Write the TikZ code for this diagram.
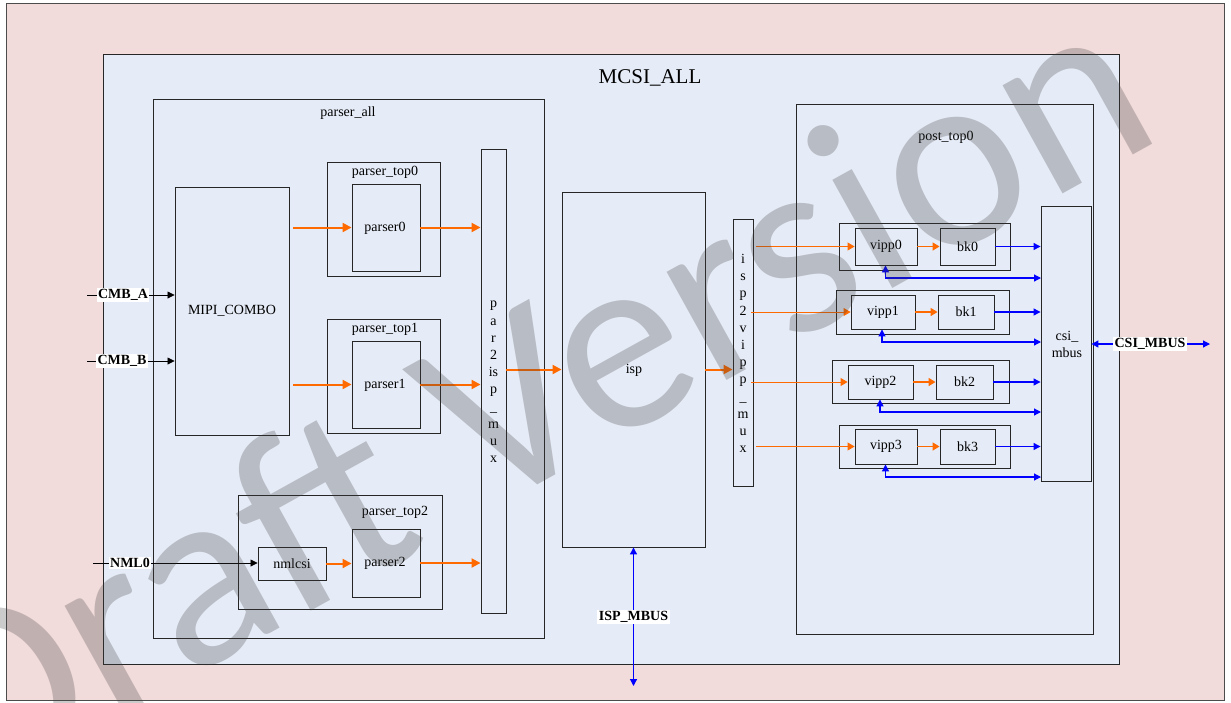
\documentclass[tikz,border=0pt]{standalone}
\usepackage{fontspec}
\setmainfont{Liberation Serif}
\newfontfamily\wmfont{Carlito}
\usetikzlibrary{arrows.meta,fit}
\definecolor{pinkbg}{HTML}{F2DCDB}
\definecolor{bluebg}{HTML}{E6ECF7}
\definecolor{org}{HTML}{FF6A00}
\definecolor{bl}{HTML}{0000FF}
\begin{document}
\begin{tikzpicture}[x=1pt,y=-1pt,
  blk/.style={draw=black!85, line width=0.9pt, inner sep=0pt},
  lbl/.style={font=\fontsize{14}{17}\selectfont, inner sep=0pt},
  vlbl/.style={font=\fontsize{14}{17.2}\selectfont, inner sep=0pt, align=center},
  boldlbl/.style={font=\fontsize{14}{17}\selectfont\bfseries, fill=white, inner sep=1.5pt},
  oarr/.style={draw=org, line width=2pt, -{Triangle[length=9pt,width=9pt]}},
  oarrt/.style={draw=org, line width=1pt, -{Triangle[length=7pt,width=8pt]}},
  barr/.style={draw=bl, line width=1.2pt, -{Triangle[length=7pt,width=7pt]}},
  bbarr/.style={draw=bl, line width=1.2pt, {Triangle[length=7pt,width=7pt]}-{Triangle[length=7pt,width=7pt]}},
  karr/.style={draw=black, line width=0.8pt, -{Triangle[length=7pt,width=7pt]}},
]
\useasboundingbox (0,0) rectangle (1231,702);
\begin{scope}
\clip (0,0) rectangle (1231,702);
% frames
\node[blk, fill=pinkbg, draw=black!70, fit={(6,3) (1224,700)}] (frame) {};
\node[blk, fill=bluebg, fit={(103,54) (1119,664)}] (mcsi) {};
\node[font=\fontsize{21}{25}\selectfont, inner sep=0pt] (mcsiT) at (650,78) {MCSI\_ALL};
% parser_all
\node[blk, fit={(153,99) (544,638)}] (pall) {};
\node[lbl] (pallT) at (348,113) {parser\_all};
\node[blk, fit={(175,187) (289,435)}] (mipi) {};
\node[lbl] (mipiT) at (232,311) {MIPI\_COMBO};
\node[blk, fit={(327,162) (440,276)}] (pt0) {};
\node[lbl] (pt0T) at (385,172) {parser\_top0};
\node[blk, fit={(352,184) (420,271)}] (p0) {};
\node[lbl] (p0T) at (385,228) {parser0};
\node[blk, fit={(327,319) (440,433)}] (pt1) {};
\node[lbl] (pt1T) at (385,329) {parser\_top1};
\node[blk, fit={(352,341) (420,428)}] (p1) {};
\node[lbl] (p1T) at (385,385) {parser1};
\node[blk, fit={(238,495) (442,609)}] (pt2) {};
\node[lbl] (pt2T) at (395,512) {parser\_top2};
\node[blk, fit={(258,547) (326,580)}] (nml) {};
\node[lbl] (nmlT) at (292,564) {nmlcsi};
\node[blk, fit={(352,529) (420,597)}] (p2) {};
\node[lbl] (p2T) at (385,563) {parser2};
\node[blk, fit={(481,149) (506,613)}] (pmux) {};
\node[vlbl] (pmuxT) at (493.5,382) {p\\a\\r\\2\\is\\p\\\_\\m\\u\\x};
% isp
\node[blk, fit={(562,192) (705,547)}] (isp) {};
\node[lbl] (ispT) at (634,370) {isp};
\node[blk, fit={(733,219) (753,486)}] (vmux) {};
\node[vlbl] (vmuxT) at (743,353.5) {i\\s\\p\\2\\v\\i\\p\\p\\\_\\m\\u\\x};
% post_top0
\node[blk, fit={(796,104) (1093,634)}] (post) {};
\node[lbl] (postT) at (946,137) {post\_top0};
\node[blk, fit={(839,223) (1010,270)}] (g0) {};
\node[blk, fit={(855,228) (917,265)}] (v0) {};
\node[lbl] at (v0) {vipp0};
\node[blk, fit={(940,228) (995,265)}] (b0) {};
\node[lbl] at (b0) {bk0};
\node[blk, fit={(836,290) (1009,334)}] (g1) {};
\node[blk, fit={(851,295) (915,329)}] (v1) {};
\node[lbl] at (v1) {vipp1};
\node[blk, fit={(938,295) (994,329)}] (b1) {};
\node[lbl] at (b1) {bk1};
\node[blk, fit={(832,360) (1009,403)}] (g2) {};
\node[blk, fit={(848,365) (913,399)}] (v2) {};
\node[lbl] at (v2) {vipp2};
\node[blk, fit={(936,365) (993,399)}] (b2) {};
\node[lbl] at (b2) {bk2};
\node[blk, fit={(839,425) (1010,468)}] (g3) {};
\node[blk, fit={(855,429) (917,464)}] (v3) {};
\node[lbl] at (v3) {vipp3};
\node[blk, fit={(940,429) (995,464)}] (b3) {};
\node[lbl] at (b3) {bk3};
\node[blk, fit={(1041,206) (1091,481)}] (csi) {};
\node[vlbl, font=\fontsize{14}{17}\selectfont] (csiT) at (1067,344) {csi\_\\mbus};
% free ends
\coordinate (cmbA) at (87,295);
\coordinate (cmbB) at (87,361);
\coordinate (nmlIn) at (93,563);
\coordinate (csiR) at (1210,344);
\coordinate (ispB) at (633.5,686);
\coordinate (fb0) at (1041,278);
\coordinate (fb1) at (1041,342);
\coordinate (fb2) at (1041,412);
\coordinate (fb3) at (1041,477);
\coordinate (mipiR) at (293,0);
\coordinate (vmuxR) at (756,0);
% black inputs
\draw[karr] (cmbA) -- (cmbA -| mipi.west);
\draw[karr] (cmbB) -- (cmbB -| mipi.west);
\draw[karr] (nmlIn) -- (nmlIn -| nml.west);
\node[boldlbl] at (123,295) {CMB\_A};
\node[boldlbl] at (122,361) {CMB\_B};
\node[boldlbl] at (130,563) {NML0};
% orange flows
\draw[oarr] (mipiR |- p0) -- (p0.west);
\draw[oarr] (mipiR |- p1) -- (p1.west);
\draw[oarr] (p0.east) -- (p0.east -| pmux.west);
\draw[oarr] (p1.east) -- (p1.east -| pmux.west);
\draw[oarr] (nml.east) -- (nml.east -| p2.west);
\draw[oarr] (p2.east) -- (p2.east -| pmux.west);
\draw[oarr] (pmux.east |- isp) -- (isp.west);
\draw[oarr] (isp.east) -- (isp.east -| vmux.west);
\draw[oarrt] (vmuxR |- v0) -- (v0.west);
\draw[oarrt] ([xshift=-5pt]vmuxR |- v1) -- (v1.west);
\draw[oarrt] ([xshift=-5pt]vmuxR |- v2) -- (v2.west);
\draw[oarrt] (vmuxR |- v3) -- (v3.west);
\draw[oarrt, line width=1.5pt] (v0.east) -- (b0.west);
\draw[oarrt, line width=1.5pt] (v1.east) -- (b1.west);
\draw[oarrt, line width=1.5pt] (v2.east) -- (b2.west);
\draw[oarrt, line width=1.5pt] (v3.east) -- (b3.west);
% blue
\draw[barr] (b0.east) -- (b0.east -| csi.west);
\draw[barr] (b1.east) -- (b1.east -| csi.west);
\draw[barr] (b2.east) -- (b2.east -| csi.west);
\draw[barr] (b3.east) -- (b3.east -| csi.west);
\draw[bbarr] ([xshift=-0.5pt]v0.south) |- (fb0);
\draw[bbarr] ([xshift=-1pt]v1.south) |- (fb1);
\draw[bbarr] ([xshift=-0.5pt]v2.south) |- (fb2);
\draw[bbarr] ([xshift=-0.5pt]v3.south) |- (fb3);
\draw[bbarr] (csi.east |- csiR) -- (csiR);
\node[boldlbl] at (1150,344) {CSI\_MBUS};
\draw[bbarr] (isp.south) -- (ispB);
\node[boldlbl] at (633.5,617) {ISP\_MBUS};
% watermark
\node[rotate=29, anchor=base, text=black!76, opacity=0.27, inner sep=0pt, font=\wmfont\fontsize{259}{259}\selectfont] (wm) at (569,468) {Draft Version};
\end{scope}
\end{tikzpicture}
\end{document}
